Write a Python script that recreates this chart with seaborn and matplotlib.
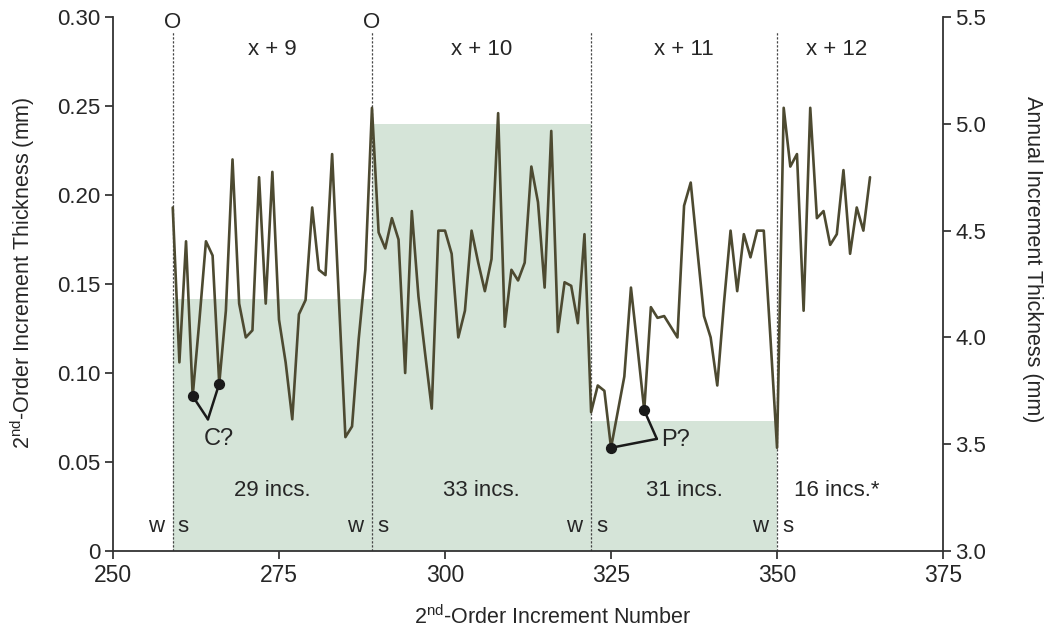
import numpy as np
import pandas as pd
import matplotlib
matplotlib.use("Agg")
import matplotlib.pyplot as plt
import seaborn as sns

# 2nd-order increment thickness (mm), one value per increment number 259..364
increment_start = 259
thickness = [
    0.193, 0.106, 0.174, 0.087, 0.129, 0.174, 0.166, 0.094, 0.135, 0.220,
    0.139, 0.120, 0.124, 0.210, 0.139, 0.213, 0.130, 0.106, 0.074, 0.133,
    0.141, 0.193, 0.158, 0.155, 0.223, 0.143, 0.064, 0.070, 0.119, 0.158,
    0.249, 0.179, 0.170, 0.187, 0.175, 0.100, 0.191, 0.143, 0.111, 0.080,
    0.180, 0.180, 0.167, 0.120, 0.135, 0.180, 0.162, 0.146, 0.164, 0.246,
    0.126, 0.158, 0.152, 0.162, 0.216, 0.196, 0.148, 0.236, 0.123, 0.151,
    0.149, 0.128, 0.178, 0.078, 0.093, 0.090, 0.058, 0.078, 0.098, 0.148,
    0.114, 0.079, 0.137, 0.131, 0.132, 0.126, 0.120, 0.194, 0.207, 0.169,
    0.132, 0.120, 0.093, 0.139, 0.180, 0.146, 0.178, 0.165, 0.180, 0.180,
    0.120, 0.058, 0.249, 0.216, 0.223, 0.135, 0.249, 0.187, 0.191, 0.172,
    0.178, 0.214, 0.167, 0.193, 0.180, 0.210,
]
increment_number = list(range(increment_start, increment_start + len(thickness)))

# Annual increments: boundaries, thickness (mm), labels
year_bounds = [259, 289, 322, 350]
year_end = 364
annual_thickness = [4.18, 5.00, 3.61]
year_labels = ["x + 9", "x + 10", "x + 11", "x + 12"]
inc_counts = ["29 incs.", "33 incs.", "31 incs.", "16 incs.*"]
origin_marks = [259, 289]

# Flagged increments
c_points = [262, 266]
p_points = [325, 330]

df = pd.DataFrame({"n": increment_number, "t": thickness})

sns.set_theme(style="ticks")
plt.rcParams["font.family"] = ["Liberation Sans", "DejaVu Sans"]
plt.rcParams["mathtext.fontset"] = "custom"
plt.rcParams["mathtext.rm"] = "Liberation Sans"
plt.rcParams["mathtext.it"] = "Liberation Sans:italic"

TXT = "#262626"
LINE = "#4d4a31"
SHADE = "#d5e4d8"
FS = 16

fig = plt.figure(figsize=(10.51, 6.33), dpi=100)
ax = fig.add_axes([0.1075, 0.1295, 0.7898, 0.8436])
ax2 = ax.twinx()

# Annual thickness as shaded bars on the right axis
edges = year_bounds
widths = [edges[i + 1] - edges[i] for i in range(len(annual_thickness))]
ax2.bar(edges[:len(annual_thickness)], annual_thickness, width=widths,
        align="edge", color=SHADE, edgecolor="none", zorder=0)
ax2.set_ylim(3.0, 5.5)
ax2.set_yticks([3.0, 3.5, 4.0, 4.5, 5.0, 5.5])
ax2.set_yticklabels(["3.0", "3.5", "4.0", "4.5", "5.0", "5.5"])
ax2.set_ylabel("Annual Increment Thickness (mm)", rotation=270,
               fontsize=15.5, color=TXT, va="center")
ax2.yaxis.set_label_coords(1.108, 0.547)

# Increment series on the left axis, drawn above the bars
ax.set_zorder(ax2.get_zorder() + 1)
ax.patch.set_visible(False)
sns.lineplot(data=df, x="n", y="t", ax=ax, color=LINE, linewidth=1.9, zorder=3)

ax.set_xlim(250, 375)
ax.set_ylim(0, 0.30)
ax.set_xticks([250, 275, 300, 325, 350, 375])
ax.set_yticks([0, 0.05, 0.10, 0.15, 0.20, 0.25, 0.30])
ax.set_yticklabels(["0", "0.05", "0.10", "0.15", "0.20", "0.25", "0.30"])
ax.set_xlabel(r"2$^{\mathrm{nd}}$-Order Increment Number", fontsize=15.5,
              color=TXT, va="center")
ax.xaxis.set_label_coords(0.53, -0.124)
ax.set_ylabel(r"2$^{\mathrm{nd}}$-Order Increment Thickness (mm)", fontsize=15.5,
              color=TXT, va="center")
ax.yaxis.set_label_coords(-0.109, 0.522)

for a in (ax, ax2):
    a.tick_params(direction="out", length=6, width=1.2, labelsize=FS,
                  colors=TXT, pad=3)
    for s in a.spines.values():
        s.set_color("#333333")
        s.set_linewidth(1.3)
    a.spines["top"].set_visible(False)
ax.tick_params(axis="x", labelsize=16.5)
ax.spines["right"].set_visible(False)
ax2.spines["left"].set_visible(False)
ax2.spines["bottom"].set_visible(False)

# Year boundaries
for b in year_bounds:
    ax.plot([b, b], [0, 0.292], ls=(0, (1.8, 1.4)), color="#444444", lw=0.9,
            zorder=2)
    ax.text(b - 2.5, 0.0135, "w", ha="center", va="center", fontsize=FS, color=TXT)
    ax.text(b + 1.6, 0.0135, "s", ha="center", va="center", fontsize=FS, color=TXT)
for o in origin_marks:
    ax.text(o, 0.297, "O", ha="center", va="center", fontsize=FS, color=TXT)

mids = [(year_bounds[i] + (year_bounds + [year_end + 4])[i + 1]) / 2
        for i in range(len(year_labels))]
for m, lab, cnt in zip(mids, year_labels, inc_counts):
    ax.text(m, 0.282, lab, ha="center", va="center", fontsize=FS, color=TXT)
    ax.text(m, 0.034, cnt, ha="center", va="center", fontsize=FS, color=TXT)

# Flagged increments with bracket callouts
tmap = dict(zip(increment_number, thickness))
def callout(points, vx, vy, label, tx, ty):
    for p in points:
        ax.plot([p, vx], [tmap[p], vy], color="#1a1a1a", lw=1.8, zorder=4)
    ax.scatter(points, [tmap[p] for p in points], s=50, color="#1a1a1a",
               zorder=5)
    ax.text(tx, ty, label, ha="left", va="center", fontsize=17, color=TXT)

callout(c_points, 264.3, 0.074, "C?", 263.7, 0.063)
callout(p_points, 331.9, 0.063, "P?", 332.6, 0.0625)

fig.savefig("out.png", dpi=100)
